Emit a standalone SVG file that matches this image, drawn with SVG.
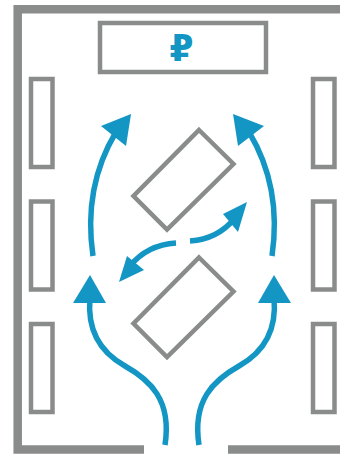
<svg xmlns="http://www.w3.org/2000/svg" width="340" height="454" viewBox="0 0 340 454">
<style>
.wall{fill:none;stroke:#8a8c8c;stroke-width:8.5}
.f{fill:#fff;stroke:#8a8c8c;stroke-width:4.5}
.flow{fill:none;stroke:#1496c4;stroke-width:5.500}
.head{fill:#1496c4}
</style>
<rect width="340" height="454" fill="#fff"/>
<g id="walls">
<path class="wall" d="M144 449.500H17.700V9.300H340"/>
<path class="wall" d="M228 449.500H340"/>
</g>
<g id="counter">
<rect class="f" x="100" y="23" width="166" height="49"/>
<text x="181.500" y="60.500" text-anchor="middle" font-family="DejaVu Sans, sans-serif" font-weight="bold" font-size="38" fill="#1496c4" textLength="24" lengthAdjust="spacingAndGlyphs">₽</text>
</g>
<g id="shelf-left-1"><rect class="f" x="31" y="79" width="21.500" height="88"/></g>
<g id="shelf-left-2"><rect class="f" x="31" y="201.500" width="21.500" height="88"/></g>
<g id="shelf-left-3"><rect class="f" x="31" y="324" width="21.500" height="88"/></g>
<g id="shelf-right-1"><rect class="f" x="313" y="79" width="21.500" height="88"/></g>
<g id="shelf-right-2"><rect class="f" x="313" y="201.500" width="21.500" height="88"/></g>
<g id="shelf-right-3"><rect class="f" x="313" y="324" width="21.500" height="88"/></g>
<g id="table-top"><path class="f" d="M199 130L233.500 164 167 229.500 133.500 196Z"/></g>
<g id="table-bottom"><path class="f" d="M199 257.500L233.500 291.500 167 357 133.500 323.500Z"/></g>
<g id="connectors">
<path class="flow" d="M93 256C87 215 92 172 116 132"/>
<path class="head" d="M131 114L101 126 126 146Z"/>
<path class="flow" d="M272 256C278 215 273 172 249 132"/>
<path class="head" d="M233 114L264 126 238 146Z"/>
<path class="flow" d="M165 445C172 400 150 380 125 366C100 352 87 330 90 298"/>
<path class="head" d="M90 275L73 303H106Z"/>
<path class="flow" d="M199 445C192 400 214 380 239 366C264 352 277 330 274 298"/>
<path class="head" d="M274 275L258 303H291Z"/>
<path class="flow" d="M176 243C160 244 143 250 130 266"/>
<path class="head" d="M119 282L127 256 144 270Z"/>
<path class="flow" d="M190 241C206 240 222 234 235 218"/>
<path class="head" d="M247 202L223 214 238 232Z"/>
</g>
</svg>
